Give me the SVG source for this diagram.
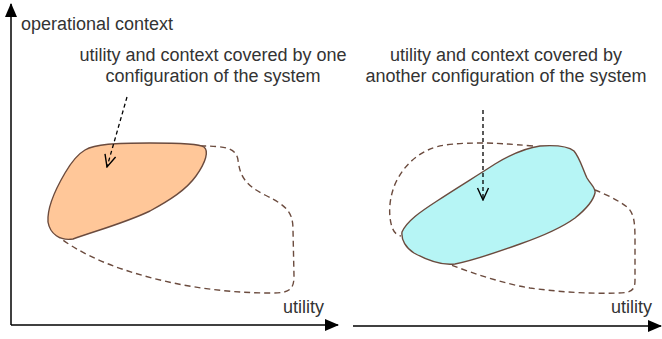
<svg xmlns="http://www.w3.org/2000/svg" width="662" height="339" viewBox="0 0 662 339">
<style>
  .lbl { font-family: "Liberation Sans", Arial, Helvetica, sans-serif; font-size: 18px; fill: #333333; }
  .axis { stroke: #000; stroke-width: 1.5; fill: none; }
  .region { stroke: #6B4B3E; stroke-width: 1.4; }
  .cover { stroke: #6B4B3E; stroke-width: 1.4; fill: none; stroke-dasharray: 6 4; }
  .pointer { stroke: #000; stroke-width: 1.3; fill: none; stroke-dasharray: 4 3; }
</style>
<defs>
  <marker id="solidArrow" viewBox="0 0 14 12" refX="13" refY="6" markerWidth="14" markerHeight="12" markerUnits="userSpaceOnUse" orient="auto">
    <path d="M0,0 L14,6 L0,12 Z" fill="#000"/>
  </marker>
  <marker id="openArrow" viewBox="0 0 14 14" refX="13" refY="7" markerWidth="14" markerHeight="14" markerUnits="userSpaceOnUse" orient="auto">
    <path d="M1,1.5 L13,7 L1,12.5" fill="none" stroke="#000" stroke-width="1.4"/>
  </marker>
</defs>

<g id="left-panel">
  <g id="left-cover">
    <path class="cover" d="M200,146 C226,146 236,148 238,160 C240,176 245,185 265,195 C287,206 293,212 293,230 L294,276 C294,290 289,293 272,293 C220,293 170,285 125,270 C100,262 76,250 60,238"/>
  </g>
  <g id="left-config">
    <path class="region" fill="#FFC799" d="M85,150 C95,144 115,143 150,143 C180,143 200,144 204,147 C209,151 206,162 196,176 C186,190 170,200 150,211 C125,223 95,231 73,239 C60,241 50,234 48,222 C47,208 55,190 65,173 C72,161 78,154 85,150 Z"/>
  </g>
</g>

<g id="right-panel">
  <g id="right-cover">
    <path class="cover" d="M533,146 C510,144 495,143 483,143 C460,143 440,144 428,150 C413,157 403,168 396,182 C389,197 388,215 392,227 C394,233 397,235 401,236"/>
    <path class="cover" d="M595,190 C605,194 618,200 627,207 C634,213 635,222 635,240 L635,280 C635,290 632,293 617,293 C590,294 560,292 530,288 C505,284 475,274 451,265"/>
  </g>
  <g id="right-config">
    <path class="region" fill="#B6F5F5" d="M402,232 C407,221 420,212 437,201 C455,189 475,177 495,164 C510,155 525,148 540,146 C555,145 568,146 574,151 C580,158 583,170 587,178 C591,185 596,188 595,193 C593,202 585,210 575,218 C560,229 540,237 520,244 C495,253 470,261 455,264 C440,266 425,259 414,253 C406,248 401,240 402,232 Z"/>
  </g>
</g>

<g id="connectors">
  <line id="y-axis" class="axis" x1="11" y1="325" x2="11" y2="4" marker-end="url(#solidArrow)"/>
  <line id="x-axis-left" class="axis" x1="11" y1="325" x2="338" y2="325" marker-end="url(#solidArrow)"/>
  <line id="x-axis-right" class="axis" x1="353" y1="326" x2="661" y2="326" marker-end="url(#solidArrow)"/>
  <line id="pointer-left" class="pointer" x1="127" y1="97" x2="107" y2="167" marker-end="url(#openArrow)"/>
  <line id="pointer-right" class="pointer" x1="483" y1="110" x2="483" y2="200" marker-end="url(#openArrow)"/>
</g>

<g id="labels">
  <text class="lbl" x="21" y="30">operational context</text>
  <text class="lbl" x="213" y="61" text-anchor="middle">utility and context covered by one</text>
  <text class="lbl" x="213" y="82" text-anchor="middle">configuration of the system</text>
  <text class="lbl" x="506" y="61" text-anchor="middle">utility and context covered by</text>
  <text class="lbl" x="506" y="82" text-anchor="middle">another configuration of the system</text>
  <text class="lbl" x="283" y="313">utility</text>
  <text class="lbl" x="611" y="313">utility</text>
</g>
</svg>
